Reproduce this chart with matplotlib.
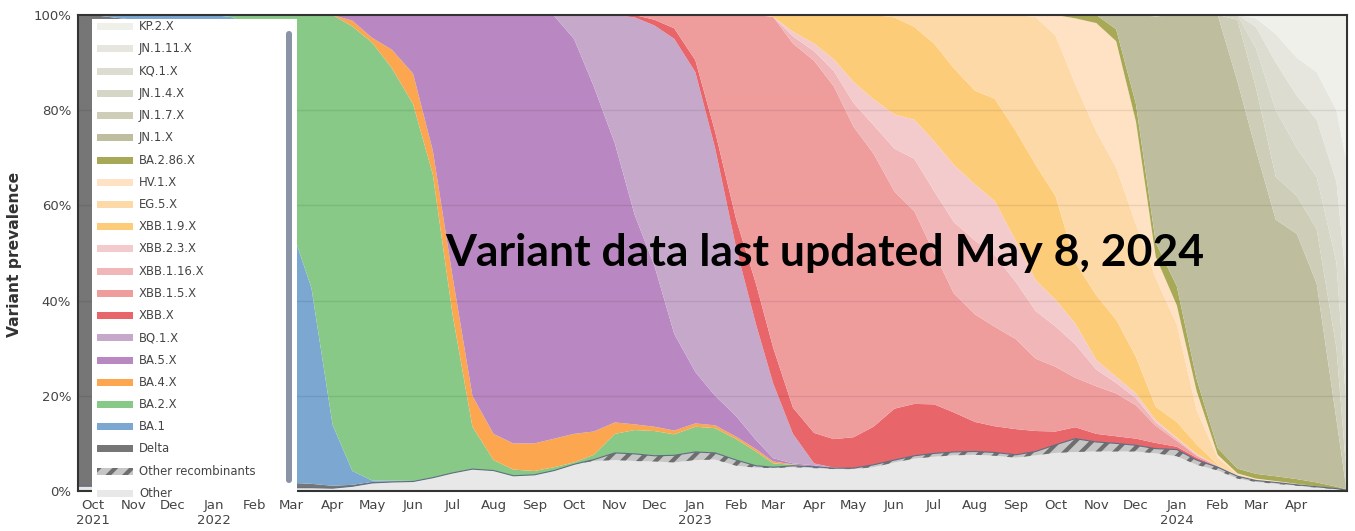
import numpy as np
import pandas as pd
import matplotlib.pyplot as plt
from matplotlib.patches import Rectangle, FancyBboxPatch

plt.rcParams['hatch.color'] = '#6e6e6e'
plt.rcParams['hatch.linewidth'] = 3.0

W, H = 1355, 531

dates = pd.to_datetime([
    '2021-09-20', '2021-10-01', '2021-10-16', '2021-11-01', '2021-11-16', '2021-12-01', '2021-12-16',
    '2022-01-01', '2022-01-16', '2022-02-01', '2022-02-16', '2022-03-01', '2022-03-16',
    '2022-04-01', '2022-04-16', '2022-05-01', '2022-05-16', '2022-06-01', '2022-06-16',
    '2022-07-01', '2022-07-16', '2022-08-01', '2022-08-16', '2022-09-01', '2022-09-16',
    '2022-10-01', '2022-10-16', '2022-11-01', '2022-11-16', '2022-12-01', '2022-12-16',
    '2023-01-01', '2023-01-16', '2023-02-01', '2023-02-16', '2023-03-01', '2023-03-16',
    '2023-04-01', '2023-04-16', '2023-05-01', '2023-05-16', '2023-06-01', '2023-06-16',
    '2023-07-01', '2023-07-16', '2023-08-01', '2023-08-16', '2023-09-01', '2023-09-16',
    '2023-10-01', '2023-10-16', '2023-11-01', '2023-11-16', '2023-12-01', '2023-12-16',
    '2024-01-01', '2024-01-16', '2024-02-01', '2024-02-16', '2024-03-01', '2024-03-16',
    '2024-04-01', '2024-04-16', '2024-05-01', '2024-05-08'])

# variant prevalence (%) at each date
other = [1, 1, 1, 1, 1, 1, 1, 1, 1, 1, 1,
         0.7, 0.7, 0.6, 1.0, 1.7, 1.9, 2.0, 2.8, 3.8, 4.6, 4.3, 3.2, 3.4, 4.3, 5.6, 6.3,
         6.5, 6.3, 6.2, 6.0, 6.5, 6.6, 5.3, 4.9, 4.8, 5.0, 4.8, 4.6, 4.6, 5.0, 6.0, 6.8,
         7.2, 7.5, 7.6, 7.4, 7.0, 7.5, 8.0, 8.2, 8.3, 8.3, 8.3, 7.9, 7.3, 5.5, 4.3, 2.6,
         1.9, 1.5, 1.1, 0.7, 0.4, 0.15]
recomb = [0] * 26 + [0.3, 1.5, 1.5, 1.2, 1.5, 1.7, 1.4, 1.2, 0.4, 0.2, 0.3, 0.3, 0.2, 0.2,
                     0.5, 0.5, 0.6, 0.7, 0.7, 0.7, 0.7, 0.6, 0.8, 1.7, 2.8, 2.0, 1.7, 1.3,
                     1.0, 1.4, 1.0, 0.7, 0.5, 0.3, 0.3, 0.2, 0.2, 0.1, 0.05]
delta = [99, 99, 98.5, 98, 97, 94, 70, 35, 10, 3, 1.5, 1.0, 0.8, 0.5, 0.3, 0.2, 0.1, 0.1] + [0] * 47
ba1 = [0, 0, 0.5, 1, 2, 5, 29, 64, 88.5, 92, 82, 53.3, 41.1, 12.8, 2.9, 0.3, 0.2] + [0] * 48
ba2 = [0] * 8 + [0.5, 4, 15.5, 45, 57.4, 86.1, 93.4, 92.0, 86.6, 79.2, 63.7, 33.2, 8.9, 2.2,
                 1.3, 0.8, 0.7, 0.4, 1.0, 4.0, 5.0, 5.2, 4.4, 5.3, 5.2, 4.4, 3.0, 0.8, 0.2] + [0] * 28
ba4 = [0] * 14 + [1.2, 1.0, 3.9, 6.4, 5.0, 8, 6.5, 5.5, 5.5, 5.8, 6, 6, 4.9, 2.4, 1.2, 0.9,
                  0.8, 0.7, 0.6, 0.5, 0.5, 0.4, 0.1] + [0] * 28
ba5 = [0] * 14 + [1.2, 4.8, 7.3, 12.3, 28.5, 55, 80, 88, 90, 90, 88.8, 83, 72.5, 58.6, 44,
                  33.8, 20.3, 10.8, 6.2, 4.3, 1.9, 0.7, 0.2, 0.3] + [0] * 27
bq1 = [0] * 24 + [0.2, 5, 15, 27, 41.5, 50.5, 62, 63, 52, 35.3, 24.3, 15.7, 6.2, 0.4, 0.1] + [0] * 26
xbb = [0] * 28 + [0.5, 1.2, 2.2, 2.5, 3.5, 6, 8.5, 7.5, 5.5, 6.4, 6.0, 6.5, 8.0, 10.8, 10.9, 10.3,
                  8.3, 6.2, 5.5, 5.4, 4.3, 2.8, 2.4, 1.7, 1.5, 1.4, 1.2, 0.6, 0.5, 0.1] + [0] * 7
xbb15 = [0] * 29 + [1.0, 2.8, 9.5, 24.5, 43, 56.5, 69.5, 76.5, 78.2, 74.1, 65.2, 57.4, 45.6, 40.5,
                    31.8, 25, 22.6, 20.9, 18.9, 15.2, 13.6, 10.4, 10, 9.0, 7.0, 3.6, 1.2, 0.4,
                    0.1] + [0] * 7
xbb116 = [0] * 36 + [1.5, 2.0, 3.2, 5.0, 6, 9, 11, 13, 15, 15.5, 15, 12, 10, 8.5, 7, 3.5, 2.2,
                     1.5, 0.7, 0.4, 0.2, 0.05] + [0] * 7
xbb23 = [0] * 36 + [1.0, 1.6, 2.5, 4.4, 5.4, 7.2, 8.2, 10.5, 12, 11.8, 11.4, 8.6, 6.5, 5.6, 4.4,
                    2.0, 1.3, 1.0, 0.5, 0.3, 0.2, 0.05] + [0] * 7
xbb19 = [0] * 35 + [0.4, 3.5, 6.0, 9.3, 14.1, 17.7, 20.4, 19.5, 20.5, 20.3, 19.7, 21.5, 23.1,
                    24.2, 21.8, 12.8, 13.6, 12, 7.7, 2.8, 3.3, 2.0, 0.2, 0.1, 0.1, 0.1] + [0] * 4
eg5 = [0] * 41 + [0.5, 2.5, 6, 11.2, 15.9, 17.6, 24.4, 31.1, 33.7, 37.5, 34.4, 32, 27.8, 27,
                  20.5, 7.2, 1.5, 0.3, 0.2, 0.1, 0.1, 0.1, 0, 0]
hv1 = [0] * 48 + [0.4, 4.3, 13.8, 22.8, 26.5, 21.6, 4.5, 4, 4, 0.6, 0.2, 0.1, 0.1, 0.1, 0, 0, 0]
ba286 = [0] * 50 + [0.7, 1.7, 2.5, 3.7, 3, 4, 2.5, 1.4, 1.0, 1.0, 1.0, 1.0, 0.8, 0.4, 0.2]
jn1 = [0] * 52 + [3, 18.7, 47.5, 57, 76.5, 91, 81.3, 68, 53.9, 51.5, 41.8, 14.1, 1.1]
jn17 = [0] * 58 + [13, 13.1, 9, 8, 11.4, 15, 4.5]
jn14 = [0] * 58 + [1.0, 8.3, 14, 10, 11, 18, 14]
kq1 = [0] * 59 + [4.5, 10, 11, 12, 17, 25]
jn111 = [0] * 59 + [1.8, 6, 8, 10, 15, 25]
kp2 = [0] * 59 + [0.7, 4, 9, 12, 20, 30]

layers = [other, recomb, delta, ba1, ba2, ba4, ba5, bq1, xbb, xbb15, xbb116, xbb23,
          xbb19, eg5, hv1, ba286, jn1, jn17, jn14, kq1, jn111, kp2]
names = ['Other', 'Other recombinants', 'Delta', 'BA.1', 'BA.2.X', 'BA.4.X', 'BA.5.X',
         'BQ.1.X', 'XBB.X', 'XBB.1.5.X', 'XBB.1.16.X', 'XBB.2.3.X', 'XBB.1.9.X', 'EG.5.X',
         'HV.1.X', 'BA.2.86.X', 'JN.1.X', 'JN.1.7.X', 'JN.1.4.X', 'KQ.1.X', 'JN.1.11.X', 'KP.2.X']
colors = ['#e8e8e8', '#c6c6c6', '#767676', '#7ba7d1', '#88c987', '#fca64f', '#b987c1',
          '#c6a8cb', '#e8656a', '#ef9c9d', '#f1b6b7', '#f4cbcd', '#fdcc79', '#fdd9a7',
          '#ffe1c3', '#a8a957', '#bebd9e', '#cdcdb8', '#d5d6c6', '#dcdcd0', '#e6e6df', '#f0f0eb']

fig = plt.figure(figsize=(W / 100, H / 100), dpi=100)
ax = fig.add_axes([78 / W, 1 - 491 / H, (1347 - 78) / W, (491 - 15) / H])

polys = ax.stackplot(dates, *layers, colors=colors, linewidth=0)
polys[1].set_hatch('//')
polys[1].set_edgecolor('#6e6e6e')

base = np.array(other) + np.array(recomb)
ax.plot(dates, base, color='#5d6d80', lw=0.8)

for v in [20, 40, 60, 80]:
    ax.axhline(v, color='black', alpha=0.08, lw=1)

ax.set_xlim(pd.Timestamp('2021-09-20'), pd.Timestamp('2024-05-09'))
ax.set_ylim(0, 100)

months = pd.date_range('2021-10-01', '2024-04-01', freq='MS')
labels = []
for i, m in enumerate(months):
    lab = m.strftime('%b')
    if i == 0 or m.month == 1:
        lab += '\n' + str(m.year)
    labels.append(lab)
ax.set_xticks(months)
ax.set_xticklabels(labels)
ax.set_yticks(range(0, 101, 20))
ax.set_yticklabels([f'{v}%' for v in range(0, 101, 20)])
ax.tick_params(axis='x', length=0, pad=6, labelsize=9.5, labelcolor='#444444')
ax.tick_params(axis='y', length=0, pad=5, labelsize=9.5, labelcolor='#444444')
for s in ax.spines.values():
    s.set_color('#333333')
    s.set_linewidth(1.5)

fig.text(15 / W, 1 - 254 / H, 'Variant prevalence', rotation=90, fontsize=11.2,
         fontweight='bold', color='#333333', ha='center', va='center')

fig.text(825 / W, 1 - 266 / H, 'Variant data last updated May 8, 2024', fontsize=32,
         fontweight='bold', family='Lato', ha='center', va='baseline', color='black')

# legend box drawn over the left of the plot
lax = fig.add_axes([92 / W, 1 - 498 / H, (297 - 92) / W, (498 - 19) / H])
lax.set_xlim(92, 297)
lax.set_ylim(498, 19)
lax.axis('off')
lax.add_patch(Rectangle((92, 19), 205, 479, facecolor='white', edgecolor='none'))
for i, (name, c) in enumerate(zip(names[::-1], colors[::-1])):
    y = 26.7 + i * 22.22
    if name == 'Other recombinants':
        lax.add_patch(Rectangle((97, y - 3.5), 36, 7, facecolor=c, edgecolor='#6e6e6e',
                                hatch='//', lw=0))
    else:
        lax.add_patch(Rectangle((97, y - 3.5), 36, 7, facecolor=c, edgecolor='none'))
    lax.text(139, y, name, fontsize=8.4, color='#444444', va='center', ha='left',
             clip_on=True)
lax.add_patch(FancyBboxPatch((286, 31), 6, 452, boxstyle='round,pad=0,rounding_size=3',
                             facecolor='#8b93a7', edgecolor='none'))

fig.savefig('out.png', dpi=100)
